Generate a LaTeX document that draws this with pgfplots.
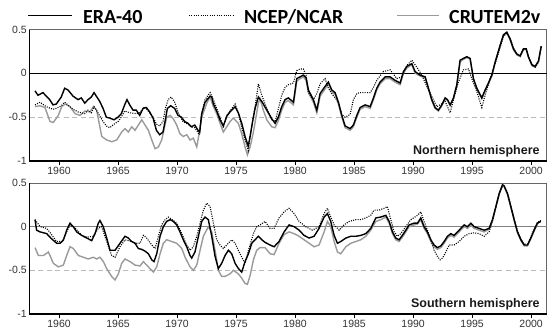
\documentclass[border=0pt]{standalone}
\usepackage{pgfplots}
\pgfplotsset{compat=1.18}
\usepackage{fontspec}
\setmainfont{Liberation Sans}
\newfontfamily\legfont{Carlito}
\definecolor{cru}{HTML}{9A9A9A}
\definecolor{tlab}{HTML}{333333}
\definecolor{frame}{HTML}{666666}
\definecolor{dashc}{HTML}{BBBBBB}
\definecolor{zerob}{HTML}{808080}
\pgfplotsset{
  panel/.style={
    scale only axis, width=517bp, xmin=1957.5, xmax=2001.3, ymin=-1, ymax=0.5,
    xtick={1960,1965,...,2000}, ytick={-1,-0.5,0,0.5}, yticklabels={-1,-0.5,0,0.5},
    xtick pos=left, ytick pos=left, tick align=outside, major tick length=4bp,
    ytick style={draw=none}, xtick style={black, line width=0.8bp},
    /pgf/number format/assume math mode=true, /pgf/number format/1000 sep={},
    tick label style={font=\fontsize{10.5bp}{12bp}\selectfont, text=tlab},
    xticklabel style={inner sep=1.5bp},
    yticklabel style={inner sep=1bp, xshift=2.5bp},
    axis line style={frame, line width=0.7bp},
    clip=false,
  },
  era/.style={black, line width=1.4bp},
  ncep/.style={black, line width=1.1bp, dash pattern=on 1bp off 1.3bp},
  crut/.style={cru, line width=1.4bp},
}
\begin{document}
\begin{tikzpicture}
\useasboundingbox (0,0) rectangle (548bp,-329bp);
% legend
\draw[black, line width=1.4bp] (28bp,-15.7bp) -- (72bp,-15.7bp);
\node[anchor=base west, inner sep=0pt] at (83bp,-23bp) {\legfont\bfseries\fontsize{20bp}{24bp}\selectfont ERA-40};
\draw[black, line width=1.1bp, dash pattern=on 1bp off 1.3bp] (189bp,-15.7bp) -- (233bp,-15.7bp);
\node[anchor=base west, inner sep=0pt] at (244bp,-23bp) {\legfont\bfseries\fontsize{20bp}{24bp}\selectfont NCEP/NCAR};
\draw[cru, line width=1.4bp] (397bp,-15.2bp) -- (439bp,-15.2bp);
\node[anchor=base west, inner sep=0pt] at (449bp,-23bp) {\legfont\bfseries\fontsize{20bp}{24bp}\selectfont CRUTEM2v};

% ---------------- Northern hemisphere ----------------
\begin{axis}[panel, height=131.5bp, anchor=north west, at={(29.5bp,-29.5bp)}]
\addplot[dashc, line width=0.9bp, dash pattern=on 5bp off 3.5bp] coordinates {(1957.5,-0.5)(2001.3,-0.5)};
\addplot[black, line width=0.8bp] coordinates {(1957.5,0)(2001.3,0)};
\addplot[crut] coordinates {
(1957.97,-0.38)(1958.39,-0.37)(1958.81,-0.39)(1959.24,-0.55)(1959.52,-0.56)(1959.94,-0.48)(1960.23,-0.38)(1960.51,-0.35)(1960.93,-0.38)(1961.36,-0.46)(1961.78,-0.48)(1962.20,-0.43)(1962.63,-0.44)(1962.91,-0.38)(1963.19,-0.42)(1963.62,-0.72)(1964.04,-0.76)(1964.47,-0.78)(1964.89,-0.76)(1965.31,-0.67)(1965.59,-0.63)(1965.87,-0.67)(1966.16,-0.61)(1966.44,-0.65)(1966.72,-0.59)(1967.01,-0.53)(1967.29,-0.59)(1967.57,-0.65)(1967.86,-0.76)(1968.14,-0.86)(1968.42,-0.84)(1968.70,-0.76)(1969.13,-0.50)(1969.41,-0.48)(1969.69,-0.52)(1969.97,-0.59)(1970.25,-0.69)(1970.53,-0.72)(1970.82,-0.70)(1971.10,-0.76)(1971.38,-0.74)(1971.67,-0.84)(1971.89,-0.67)(1972.09,-0.50)(1972.52,-0.34)(1972.80,-0.27)(1973.08,-0.38)(1973.36,-0.46)(1973.64,-0.57)(1973.92,-0.67)(1974.21,-0.61)(1974.49,-0.55)(1974.77,-0.51)(1975.19,-0.57)(1975.48,-0.69)(1975.76,-0.84)(1975.96,-0.93)(1976.19,-0.84)(1976.47,-0.67)(1976.89,-0.34)(1977.03,-0.29)(1977.31,-0.42)(1977.60,-0.53)(1978.03,-0.61)(1978.31,-0.62)(1978.58,-0.54)(1978.87,-0.42)(1979.15,-0.33)(1979.43,-0.31)(1979.86,-0.36)(1980.14,-0.09)(1980.42,-0.06)(1980.70,-0.04)(1980.93,-0.08)(1981.13,-0.22)(1981.55,-0.33)(1981.84,-0.45)(1982.12,-0.26)(1982.54,-0.18)(1982.82,-0.12)(1983.11,-0.21)(1983.39,-0.24)(1983.67,-0.35)(1983.96,-0.50)(1984.24,-0.62)(1984.66,-0.65)(1984.94,-0.61)(1985.23,-0.50)(1985.51,-0.41)(1985.93,-0.38)(1986.36,-0.40)(1986.64,-0.30)(1986.92,-0.19)(1987.20,-0.12)(1987.63,-0.06)(1988.05,-0.06)(1988.47,-0.10)(1988.90,-0.13)(1989.18,0.00)(1989.47,0.06)(1989.89,0.10)(1990.17,0.00)(1990.59,-0.03)(1991.02,-0.05)(1991.30,-0.18)(1991.58,-0.31)(1991.86,-0.40)(1992.14,-0.43)(1992.43,-0.37)(1992.71,-0.29)(1992.91,-0.31)(1993.14,-0.37)(1993.42,-0.29)(1993.70,-0.14)(1993.98,0.13)(1994.26,0.16)(1994.55,0.18)(1994.83,0.16)(1995.11,-0.07)(1995.40,-0.18)(1995.82,-0.29)(1996.10,-0.20)(1996.38,-0.12)(1996.67,-0.03)(1996.95,0.12)(1997.37,0.31)(1997.65,0.43)(1997.94,0.46)(1998.22,0.38)(1998.50,0.27)(1998.79,0.21)(1999.07,0.19)(1999.35,0.27)(1999.58,0.27)(1999.77,0.18)(2000.06,0.09)(2000.34,0.07)(2000.62,0.13)(2000.85,0.30)
};
\addplot[ncep] coordinates {
(1957.97,-0.36)(1958.39,-0.33)(1958.92,-0.38)(1959.49,-0.41)(1959.77,-0.40)(1960.19,-0.37)(1960.48,-0.33)(1960.76,-0.36)(1961.19,-0.41)(1961.61,-0.44)(1962.18,-0.46)(1962.46,-0.42)(1962.74,-0.45)(1962.97,-0.38)(1963.30,-0.45)(1963.73,-0.55)(1964.01,-0.60)(1964.30,-0.62)(1964.66,-0.58)(1965.00,-0.55)(1965.28,-0.50)(1965.56,-0.43)(1966.00,-0.45)(1966.55,-0.46)(1966.84,-0.45)(1967.26,-0.38)(1967.50,-0.42)(1967.97,-0.50)(1968.25,-0.58)(1968.53,-0.60)(1968.81,-0.55)(1969.01,-0.40)(1969.25,-0.30)(1969.50,-0.27)(1969.80,-0.33)(1970.10,-0.45)(1970.50,-0.55)(1970.93,-0.58)(1971.21,-0.61)(1971.50,-0.62)(1971.89,-0.70)(1972.09,-0.46)(1972.37,-0.30)(1972.80,-0.22)(1973.08,-0.30)(1973.36,-0.40)(1973.64,-0.50)(1973.92,-0.62)(1974.21,-0.48)(1974.64,-0.40)(1974.92,-0.35)(1975.19,-0.45)(1975.48,-0.62)(1975.76,-0.76)(1976.03,-0.88)(1976.19,-0.72)(1976.61,-0.38)(1976.89,-0.12)(1977.18,-0.25)(1977.60,-0.40)(1978.03,-0.53)(1978.31,-0.55)(1978.87,-0.25)(1979.15,-0.16)(1979.43,-0.13)(1979.86,-0.11)(1980.14,0.03)(1980.42,0.05)(1980.70,0.05)(1980.93,-0.02)(1981.13,-0.22)(1981.55,-0.30)(1981.84,-0.23)(1982.12,-0.12)(1982.54,-0.06)(1982.82,-0.17)(1983.11,-0.23)(1983.67,-0.33)(1983.96,-0.47)(1984.24,-0.50)(1984.66,-0.47)(1984.94,-0.30)(1985.23,-0.23)(1985.51,-0.22)(1985.93,-0.22)(1986.36,-0.22)(1986.64,-0.16)(1986.92,-0.08)(1987.48,0.02)(1988.05,0.04)(1988.62,-0.06)(1989.04,-0.04)(1989.47,0.09)(1989.89,0.15)(1990.31,0.07)(1990.74,-0.02)(1991.16,-0.15)(1992.01,-0.38)(1992.40,-0.35)(1992.71,-0.32)(1993.14,-0.45)(1993.42,-0.30)(1993.84,-0.10)(1994.26,0.04)(1994.69,0.05)(1994.97,-0.06)(1995.40,-0.21)(1995.82,-0.39)(1996.10,-0.25)(1996.53,-0.06)(1997.09,0.17)(1997.65,0.42)(1997.94,0.46)(1998.22,0.40)(1998.50,0.29)(1998.79,0.22)(1999.07,0.20)(1999.35,0.28)(1999.58,0.28)(1999.77,0.19)(2000.06,0.09)(2000.34,0.07)(2000.62,0.13)(2000.85,0.30)
};
\addplot[era] coordinates {
(1957.97,-0.20)(1958.22,-0.25)(1958.64,-0.22)(1958.92,-0.26)(1959.21,-0.30)(1959.49,-0.36)(1959.77,-0.35)(1960.19,-0.27)(1960.48,-0.17)(1960.76,-0.19)(1961.19,-0.26)(1961.61,-0.30)(1961.89,-0.28)(1962.18,-0.34)(1962.46,-0.30)(1962.74,-0.27)(1962.97,-0.22)(1963.16,-0.26)(1963.45,-0.32)(1963.73,-0.40)(1964.01,-0.50)(1964.29,-0.51)(1964.66,-0.53)(1965.00,-0.50)(1965.28,-0.46)(1965.56,-0.36)(1965.76,-0.30)(1965.99,-0.36)(1966.27,-0.42)(1966.55,-0.42)(1966.84,-0.48)(1967.12,-0.40)(1967.40,-0.39)(1967.68,-0.44)(1967.97,-0.51)(1968.25,-0.65)(1968.53,-0.70)(1968.81,-0.67)(1969.01,-0.53)(1969.18,-0.40)(1969.46,-0.37)(1969.80,-0.40)(1970.08,-0.48)(1970.37,-0.50)(1970.65,-0.55)(1970.93,-0.57)(1971.21,-0.61)(1971.50,-0.59)(1971.78,-0.65)(1971.92,-0.67)(1972.09,-0.46)(1972.37,-0.33)(1972.80,-0.26)(1972.94,-0.27)(1973.08,-0.35)(1973.36,-0.43)(1973.64,-0.53)(1973.92,-0.60)(1974.21,-0.49)(1974.49,-0.44)(1974.64,-0.42)(1974.92,-0.38)(1975.19,-0.45)(1975.48,-0.57)(1975.76,-0.72)(1975.91,-0.78)(1976.03,-0.83)(1976.19,-0.72)(1976.40,-0.55)(1976.61,-0.40)(1976.89,-0.27)(1977.18,-0.32)(1977.60,-0.42)(1978.03,-0.52)(1978.31,-0.57)(1978.58,-0.50)(1978.87,-0.38)(1979.15,-0.30)(1979.43,-0.28)(1979.86,-0.33)(1980.14,-0.06)(1980.42,-0.04)(1980.70,-0.02)(1980.93,-0.05)(1981.13,-0.19)(1981.55,-0.30)(1981.84,-0.42)(1982.12,-0.23)(1982.54,-0.15)(1982.82,-0.10)(1983.11,-0.19)(1983.39,-0.22)(1983.67,-0.33)(1983.96,-0.48)(1984.24,-0.60)(1984.66,-0.63)(1984.94,-0.59)(1985.23,-0.48)(1985.51,-0.39)(1985.93,-0.36)(1986.36,-0.38)(1986.64,-0.28)(1986.92,-0.17)(1987.20,-0.10)(1987.63,-0.04)(1988.05,-0.04)(1988.47,-0.08)(1988.90,-0.11)(1989.18,0.02)(1989.47,0.08)(1989.89,0.11)(1990.17,0.02)(1990.59,-0.02)(1991.02,-0.04)(1991.30,-0.17)(1991.58,-0.30)(1991.86,-0.39)(1992.14,-0.42)(1992.43,-0.36)(1992.71,-0.28)(1992.91,-0.30)(1993.14,-0.36)(1993.42,-0.28)(1993.70,-0.13)(1993.98,0.15)(1994.26,0.17)(1994.55,0.19)(1994.83,0.17)(1995.11,-0.06)(1995.40,-0.17)(1995.82,-0.28)(1996.10,-0.19)(1996.38,-0.11)(1996.67,-0.02)(1996.95,0.13)(1997.37,0.32)(1997.65,0.44)(1997.94,0.47)(1998.22,0.39)(1998.50,0.28)(1998.79,0.22)(1999.07,0.20)(1999.35,0.28)(1999.58,0.28)(1999.77,0.19)(2000.06,0.10)(2000.34,0.08)(2000.62,0.14)(2000.85,0.31)
};
\draw[black, line width=1.4bp] (rel axis cs:0,1) -- (rel axis cs:0,0) -- (rel axis cs:1,0);
\node[anchor=base east, inner sep=0pt, font=\bfseries\fontsize{12.5bp}{14bp}\selectfont, text=black!90] at (rel axis cs:0.987,0.053) {Northern hemisphere};
\end{axis}

% ---------------- Southern hemisphere ----------------
\begin{axis}[panel, height=131bp, anchor=north west, at={(29.5bp,-183bp)}]
\addplot[dashc, line width=0.9bp, dash pattern=on 5bp off 3.5bp] coordinates {(1957.5,-0.5)(2001.3,-0.5)};
\addplot[zerob, line width=1.5bp] coordinates {(1957.5,0)(2001.3,0)};
\addplot[crut] coordinates {
(1957.97,-0.24)(1958.25,-0.33)(1958.68,-0.33)(1959.10,-0.29)(1959.52,-0.42)(1959.94,-0.46)(1960.37,-0.44)(1960.65,-0.33)(1960.93,-0.23)(1961.21,-0.25)(1961.64,-0.33)(1962.06,-0.35)(1962.48,-0.37)(1962.91,-0.35)(1963.19,-0.37)(1963.47,-0.35)(1963.76,-0.40)(1964.04,-0.48)(1964.46,-0.57)(1964.75,-0.61)(1965.03,-0.54)(1965.31,-0.42)(1965.59,-0.37)(1966.02,-0.40)(1966.44,-0.44)(1966.86,-0.45)(1967.15,-0.40)(1967.57,-0.46)(1968.00,-0.52)(1968.28,-0.46)(1968.56,-0.31)(1968.84,-0.19)(1969.12,-0.15)(1969.55,-0.17)(1969.97,-0.19)(1970.40,-0.25)(1970.68,-0.35)(1971.10,-0.46)(1971.38,-0.50)(1971.67,-0.44)(1971.95,-0.27)(1972.23,-0.11)(1972.65,0.00)(1972.94,-0.06)(1973.22,-0.27)(1973.50,-0.50)(1973.78,-0.57)(1974.07,-0.57)(1974.49,-0.54)(1974.77,-0.50)(1975.19,-0.54)(1975.48,-0.59)(1975.76,-0.65)(1975.96,-0.66)(1976.19,-0.56)(1976.47,-0.38)(1976.75,-0.27)(1977.03,-0.24)(1977.46,-0.24)(1977.88,-0.31)(1978.22,-0.32)(1978.64,-0.19)(1979.07,-0.09)(1979.49,-0.06)(1979.92,-0.08)(1980.34,-0.11)(1980.76,-0.15)(1981.19,-0.19)(1981.61,-0.23)(1982.03,-0.21)(1982.46,-0.06)(1982.74,0.06)(1983.02,0.00)(1983.31,-0.17)(1983.59,-0.29)(1983.87,-0.31)(1984.30,-0.23)(1984.72,-0.19)(1985.14,-0.17)(1985.57,-0.15)(1985.99,-0.11)(1986.41,-0.04)(1986.84,0.06)(1987.26,0.08)(1987.69,0.11)(1987.97,0.04)(1988.25,-0.08)(1988.53,-0.15)(1988.81,-0.17)(1989.09,-0.12)(1989.38,-0.06)(1989.66,0.00)(1990.08,0.02)(1990.37,0.03)(1990.65,0.08)(1990.93,-0.02)(1991.21,-0.08)(1991.50,-0.17)(1991.78,-0.23)(1992.06,-0.26)(1992.35,-0.24)(1992.63,-0.19)(1992.91,-0.13)(1993.19,-0.10)(1993.47,-0.12)(1993.76,-0.08)(1994.04,-0.04)(1994.32,0.00)(1994.60,-0.02)(1994.89,0.02)(1995.17,-0.02)(1995.59,-0.04)(1996.02,-0.06)(1996.44,-0.03)(1996.72,0.07)(1997.01,0.22)(1997.29,0.37)(1997.57,0.47)(1997.70,0.46)(1997.99,0.37)(1998.28,0.22)(1998.56,0.07)(1998.84,-0.07)(1999.13,-0.16)(1999.41,-0.22)(1999.69,-0.22)(1999.97,-0.14)(2000.25,-0.05)(2000.53,0.03)(2000.82,0.07)
};
\addplot[ncep] coordinates {
(1957.97,0.08)(1958.40,0.00)(1958.96,-0.02)(1959.20,-0.06)(1959.80,-0.17)(1960.30,-0.17)(1960.65,-0.06)(1960.93,0.02)(1961.40,-0.02)(1961.92,-0.10)(1962.35,-0.12)(1962.91,-0.11)(1963.33,-0.02)(1963.61,0.00)(1964.04,-0.17)(1964.46,-0.33)(1964.75,-0.35)(1965.17,-0.23)(1965.59,-0.15)(1966.16,-0.17)(1966.58,-0.19)(1966.86,-0.19)(1967.15,-0.10)(1967.43,-0.13)(1967.86,-0.21)(1968.14,-0.25)(1968.42,-0.11)(1968.70,0.02)(1968.99,0.08)(1969.27,0.11)(1969.69,0.07)(1969.97,0.04)(1970.40,-0.08)(1970.82,-0.21)(1971.10,-0.27)(1971.38,-0.23)(1971.67,-0.11)(1971.95,0.04)(1972.23,0.19)(1972.52,0.27)(1972.80,0.23)(1973.08,0.04)(1973.36,-0.15)(1973.64,-0.21)(1973.92,-0.25)(1974.35,-0.19)(1974.64,-0.15)(1974.92,-0.19)(1975.19,-0.27)(1975.48,-0.35)(1975.76,-0.42)(1976.05,-0.27)(1976.47,-0.08)(1976.75,0.00)(1977.03,0.02)(1977.46,0.06)(1977.88,-0.02)(1978.22,-0.02)(1978.64,0.10)(1979.07,0.17)(1979.49,0.21)(1979.92,0.15)(1980.34,0.06)(1980.90,0.00)(1981.47,-0.04)(1982.03,0.00)(1982.46,0.15)(1982.74,0.21)(1983.02,0.11)(1983.31,0.02)(1983.73,-0.04)(1984.15,0.02)(1984.58,0.06)(1985.14,0.08)(1985.57,0.08)(1985.99,0.10)(1986.41,0.13)(1986.69,0.19)(1987.12,0.19)(1987.54,0.21)(1987.82,0.23)(1988.11,0.08)(1988.39,-0.06)(1988.67,-0.11)(1988.95,-0.08)(1989.38,0.00)(1989.80,0.08)(1990.37,0.13)(1990.65,0.17)(1990.93,0.06)(1991.21,-0.04)(1991.50,-0.15)(1991.78,-0.27)(1992.06,-0.34)(1992.29,-0.38)(1992.49,-0.36)(1992.77,-0.29)(1993.05,-0.21)(1993.47,-0.21)(1993.90,-0.17)(1994.32,-0.11)(1994.75,-0.08)(1995.17,-0.07)(1995.59,-0.08)(1996.02,-0.11)(1996.44,-0.06)(1996.72,0.06)(1997.01,0.22)(1997.29,0.37)(1997.57,0.47)(1997.70,0.47)(1997.99,0.39)(1998.28,0.24)(1998.56,0.09)(1998.84,-0.05)(1999.13,-0.14)(1999.41,-0.20)(1999.69,-0.20)(1999.97,-0.12)(2000.25,-0.03)(2000.53,0.05)(2000.82,0.07)
};
\addplot[era] coordinates {
(1957.97,0.08)(1958.10,-0.04)(1958.40,-0.06)(1958.96,-0.08)(1959.30,-0.13)(1959.80,-0.19)(1960.10,-0.19)(1960.38,-0.15)(1960.65,-0.04)(1960.93,0.04)(1961.21,0.00)(1961.50,-0.06)(1961.92,-0.10)(1962.35,-0.13)(1962.77,-0.16)(1963.05,-0.08)(1963.33,0.04)(1963.47,0.07)(1963.75,0.00)(1964.04,-0.13)(1964.32,-0.27)(1964.75,-0.27)(1965.17,-0.19)(1965.59,-0.11)(1965.87,-0.13)(1966.16,-0.17)(1966.44,-0.19)(1966.72,-0.25)(1967.01,-0.26)(1967.29,-0.28)(1967.57,-0.31)(1967.86,-0.38)(1968.05,-0.40)(1968.28,-0.31)(1968.56,-0.11)(1968.84,0.00)(1969.12,0.06)(1969.41,0.08)(1969.69,0.06)(1969.97,0.02)(1970.25,-0.06)(1970.53,-0.15)(1970.82,-0.23)(1971.10,-0.33)(1971.24,-0.36)(1971.52,-0.29)(1971.81,-0.11)(1972.09,0.06)(1972.37,0.11)(1972.65,0.08)(1972.94,-0.11)(1973.22,-0.34)(1973.50,-0.48)(1973.78,-0.42)(1974.07,-0.33)(1974.35,-0.27)(1974.63,-0.31)(1974.92,-0.42)(1975.20,-0.48)(1975.48,-0.52)(1975.76,-0.40)(1976.05,-0.31)(1976.33,-0.19)(1976.61,-0.15)(1976.89,-0.11)(1977.18,-0.15)(1977.46,-0.18)(1977.88,-0.21)(1978.22,-0.23)(1978.64,-0.17)(1979.07,-0.06)(1979.49,0.02)(1979.92,0.00)(1980.34,-0.04)(1980.76,-0.10)(1981.19,-0.13)(1981.61,-0.11)(1982.03,-0.02)(1982.46,0.11)(1982.74,0.15)(1983.02,0.06)(1983.31,-0.10)(1983.59,-0.19)(1983.87,-0.17)(1984.30,-0.13)(1984.72,-0.11)(1985.14,-0.11)(1985.57,-0.10)(1985.99,-0.08)(1986.41,-0.02)(1986.84,0.10)(1987.26,0.11)(1987.69,0.13)(1987.97,0.06)(1988.25,-0.06)(1988.53,-0.13)(1988.81,-0.15)(1989.09,-0.10)(1989.38,-0.04)(1989.66,0.02)(1990.08,0.04)(1990.37,0.04)(1990.65,0.10)(1990.93,0.00)(1991.21,-0.06)(1991.50,-0.15)(1991.78,-0.21)(1992.06,-0.24)(1992.35,-0.22)(1992.63,-0.17)(1992.91,-0.11)(1993.19,-0.08)(1993.47,-0.10)(1993.76,-0.06)(1994.04,-0.02)(1994.32,0.02)(1994.60,0.00)(1994.89,0.04)(1995.17,0.00)(1995.59,-0.02)(1996.02,-0.04)(1996.44,-0.02)(1996.72,0.08)(1997.01,0.23)(1997.29,0.38)(1997.57,0.48)(1997.70,0.47)(1997.99,0.38)(1998.28,0.23)(1998.56,0.08)(1998.84,-0.06)(1999.13,-0.15)(1999.41,-0.21)(1999.69,-0.21)(1999.97,-0.13)(2000.25,-0.04)(2000.53,0.04)(2000.82,0.06)
};
\draw[black, line width=1.4bp] (rel axis cs:0,1) -- (rel axis cs:0,0) -- (rel axis cs:1,0);
\node[anchor=base east, inner sep=0pt, font=\bfseries\fontsize{12.5bp}{14bp}\selectfont, text=black!90] at (rel axis cs:0.987,0.046) {Southern hemisphere};
\end{axis}
\end{tikzpicture}
\end{document}
